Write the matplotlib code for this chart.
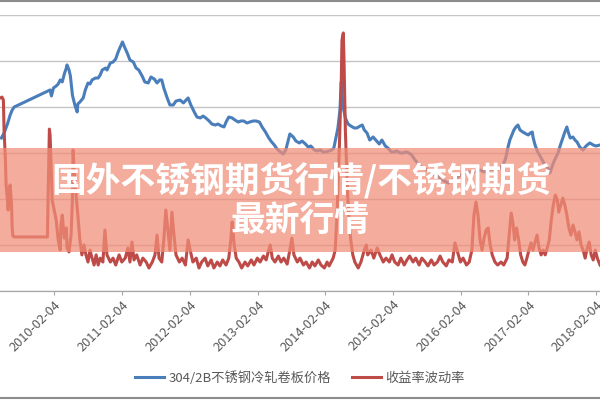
import matplotlib
matplotlib.use('Agg')
import matplotlib.pyplot as plt
from matplotlib.lines import Line2D
from matplotlib.patches import Rectangle
import pandas as pd

plt.rcParams['font.family'] = ['Noto Sans CJK SC', 'DejaVu Sans']

# ---- Data (dates as decimal years) ----
price_years = [
    2009.31, 2009.35, 2009.40, 2009.44, 2009.47, 2009.50,
    2010.03, 2010.05, 2010.08, 2010.12, 2010.15, 2010.18, 2010.21, 2010.24, 2010.27, 2010.28,
    2010.31, 2010.33, 2010.36, 2010.37, 2010.40, 2010.43, 2010.44, 2010.47, 2010.52, 2010.55,
    2010.59, 2010.62, 2010.65, 2010.70, 2010.74, 2010.77, 2010.80, 2010.85, 2010.87, 2010.92,
    2010.96, 2011.00, 2011.03, 2011.06, 2011.10, 2011.13, 2011.17, 2011.21, 2011.26, 2011.30,
    2011.34, 2011.39, 2011.43, 2011.48, 2011.52, 2011.57, 2011.61, 2011.65, 2011.68, 2011.71,
    2011.76, 2011.80, 2011.85, 2011.89, 2011.95, 2012.00, 2012.04, 2012.07, 2012.11, 2012.16,
    2012.20, 2012.25, 2012.29, 2012.33, 2012.38, 2012.42, 2012.47, 2012.51, 2012.56, 2012.60,
    2012.63, 2012.67, 2012.72, 2012.76, 2012.81, 2012.85, 2012.89, 2012.94, 2012.98, 2013.03,
    2013.07, 2013.12, 2013.16, 2013.21, 2013.25, 2013.29, 2013.34, 2013.38, 2013.43, 2013.47,
    2013.51, 2013.54, 2013.57, 2013.62, 2013.66, 2013.71, 2013.75, 2013.80, 2013.84, 2013.88,
    2013.93, 2013.97, 2014.02, 2014.06, 2014.10, 2014.15, 2014.19, 2014.22, 2014.25, 2014.28,
    2014.31, 2014.33, 2014.34, 2014.36, 2014.39, 2014.43, 2014.47, 2014.52, 2014.56, 2014.61,
    2014.64, 2014.67, 2014.71, 2014.75, 2014.80, 2014.84, 2014.89, 2014.93, 2014.98, 2015.02,
    2015.07, 2015.11, 2015.15, 2015.20, 2015.24, 2015.29, 2015.33, 2015.37, 2015.42, 2015.47,
    2015.51, 2015.55, 2015.60, 2015.64, 2015.69, 2015.73, 2015.79, 2015.85, 2015.91, 2015.97,
    2016.03, 2016.09, 2016.15, 2016.21, 2016.26, 2016.32, 2016.38, 2016.44, 2016.50, 2016.56,
    2016.62, 2016.67, 2016.72, 2016.76, 2016.79, 2016.82, 2016.85, 2016.88, 2016.91, 2016.94,
    2016.97, 2017.01, 2017.06, 2017.09, 2017.12, 2017.15, 2017.16, 2017.19, 2017.23, 2017.28,
    2017.32, 2017.37, 2017.41, 2017.46, 2017.50, 2017.53, 2017.56, 2017.59, 2017.62, 2017.63,
    2017.66, 2017.68, 2017.71, 2017.75, 2017.78, 2017.81, 2017.85, 2017.90, 2017.93, 2017.96,
    2018.00, 2018.05, 2018.09, 2018.15,
]
price = [
    16630, 17170, 18150, 19130, 19670, 20000,
    21850, 21200, 22070, 22280, 22500, 22940, 22720, 23590, 24240, 24570,
    24020, 23370, 21300, 20980, 20110, 19460, 20330, 20540, 20980, 21850,
    22610, 22500, 22940, 23150, 23150, 23480, 24020, 24240, 24020, 24780,
    24890, 25220, 25870, 26410, 27070, 26520, 25870, 25110, 24890, 24240,
    24020, 23370, 22720, 22610, 23260, 23040, 22610, 22940, 22940, 22070,
    20980, 20220, 20220, 20650, 20760, 20440, 20760, 20980, 20220, 19460,
    18910, 18810, 19020, 18810, 18480, 18150, 18040, 18150, 17940, 17830,
    18370, 18910, 18810, 18590, 18370, 18480, 18480, 18260, 18370, 18480,
    18480, 18370, 17830, 17280, 16740, 16300, 15870, 15440, 15110, 14890,
    15330, 16200, 17070, 16740, 16300, 16090, 16300, 15980, 15650, 15760,
    15330, 15220, 15330, 15110, 15110, 15220, 15330, 15540, 16630, 17720,
    19670, 22720, 21300, 19890, 18810, 18150, 17940, 17720, 17720, 17940,
    18040, 17500, 17170, 16410, 16740, 16410, 15980, 16410, 15760, 15540,
    15110, 15110, 15220, 15000, 15000, 15110, 15000, 14780, 14240, 13800,
    13480, 13370, 13150, 12940, 12720, 12500, 12280, 11960, 11740, 12070,
    12280, 12610, 12830, 12940, 12830, 13040, 13150, 12940, 13150, 13260,
    13150, 13370, 13700, 14460, 15540, 16410, 16960, 17500, 17830, 18040,
    17500, 17280, 17070, 16960, 17170, 17280, 16740, 15870, 15110, 14460,
    13910, 13480, 12830, 13910, 14570, 15000, 15760, 16410, 17070, 17280,
    17830, 17280, 16630, 16740, 16410, 16200, 15650, 15330, 15650, 15870,
    16090, 15870, 15760, 15870,
]

vol_years = [
    2009.29, 2009.32, 2009.34, 2009.35, 2009.37, 2009.38, 2009.40, 2009.41, 2009.43, 2009.44,
    2009.46, 2009.47, 2009.48, 2009.50, 2009.99, 2010.00, 2010.02, 2010.03, 2010.05, 2010.06,
    2010.09, 2010.12, 2010.15, 2010.18, 2010.19, 2010.21, 2010.24, 2010.27, 2010.28, 2010.31,
    2010.34, 2010.36, 2010.37, 2010.39, 2010.42, 2010.44, 2010.47, 2010.50, 2010.53, 2010.56,
    2010.59, 2010.62, 2010.65, 2010.68, 2010.71, 2010.74, 2010.77, 2010.81, 2010.84, 2010.87,
    2010.92, 2010.96, 2011.00, 2011.05, 2011.09, 2011.14, 2011.18, 2011.21, 2011.24, 2011.27,
    2011.31, 2011.36, 2011.40, 2011.45, 2011.49, 2011.54, 2011.58, 2011.61, 2011.64, 2011.68,
    2011.71, 2011.74, 2011.77, 2011.80, 2011.83, 2011.86, 2011.89, 2011.94, 2011.98, 2012.03,
    2012.07, 2012.10, 2012.14, 2012.19, 2012.23, 2012.27, 2012.32, 2012.36, 2012.41, 2012.45,
    2012.50, 2012.54, 2012.58, 2012.63, 2012.67, 2012.70, 2012.72, 2012.75, 2012.78, 2012.82,
    2012.86, 2012.91, 2012.95, 2013.00, 2013.04, 2013.09, 2013.13, 2013.18, 2013.22, 2013.25,
    2013.28, 2013.31, 2013.35, 2013.40, 2013.44, 2013.48, 2013.53, 2013.57, 2013.60, 2013.63,
    2013.68, 2013.72, 2013.77, 2013.81, 2013.86, 2013.90, 2013.94, 2013.99, 2014.03, 2014.08,
    2014.12, 2014.15, 2014.21, 2014.24, 2014.27, 2014.30, 2014.33, 2014.34, 2014.36, 2014.37,
    2014.39, 2014.42, 2014.45, 2014.47, 2014.50, 2014.53, 2014.58, 2014.62, 2014.67, 2014.70,
    2014.72, 2014.77, 2014.81, 2014.86, 2014.90, 2014.95, 2014.99, 2015.04, 2015.08, 2015.12,
    2015.17, 2015.21, 2015.26, 2015.30, 2015.34, 2015.39, 2015.43, 2015.48, 2015.52, 2015.57,
    2015.61, 2015.66, 2015.70, 2015.75, 2015.79, 2015.83, 2015.88, 2015.92, 2015.97, 2016.01,
    2016.04, 2016.09, 2016.13, 2016.18, 2016.22, 2016.26, 2016.29, 2016.32, 2016.35, 2016.38,
    2016.41, 2016.44, 2016.47, 2016.50, 2016.53, 2016.56, 2016.60, 2016.64, 2016.69, 2016.73,
    2016.78, 2016.81, 2016.84, 2016.87, 2016.89, 2016.92, 2016.95, 2016.98, 2017.01, 2017.04,
    2017.07, 2017.10, 2017.13, 2017.16, 2017.19, 2017.22, 2017.25, 2017.28, 2017.31, 2017.34,
    2017.37, 2017.40, 2017.43, 2017.46, 2017.49, 2017.52, 2017.54, 2017.57, 2017.60, 2017.63,
    2017.66, 2017.69, 2017.72, 2017.75, 2017.78, 2017.81, 2017.84, 2017.87, 2017.90, 2017.93,
    2017.96, 2017.99, 2018.02, 2018.05, 2018.08, 2018.11, 2018.15,
]
vol = [
    83.9, 84.3, 83.0, 70.0, 57.0, 46.1, 39.6, 35.2, 44.8, 46.1,
    37.4, 27.4, 23.9, 23.5, 23.5, 39.6, 70.4, 67.8, 50.4, 39.6,
    35.2, 30.9, 22.2, 17.8, 28.7, 33.0, 23.0, 27.4, 18.7, 17.0,
    24.3, 39.6, 61.3, 50.4, 39.6, 33.0, 22.2, 15.7, 20.0, 15.7,
    12.6, 17.8, 14.3, 11.3, 15.7, 11.3, 14.3, 12.6, 26.5, 15.7,
    12.6, 14.3, 11.3, 15.7, 12.6, 14.3, 18.7, 12.6, 21.3, 13.5,
    15.7, 11.3, 14.3, 12.6, 10.0, 12.6, 15.7, 24.3, 14.3, 12.6,
    22.2, 35.2, 26.5, 17.8, 34.3, 24.3, 15.7, 12.6, 14.3, 11.3,
    22.2, 17.8, 12.6, 14.3, 10.0, 12.6, 14.3, 10.9, 13.5, 10.0,
    12.6, 10.9, 13.5, 11.3, 14.3, 22.2, 30.0, 20.0, 14.3, 12.6,
    10.0, 12.6, 10.9, 13.5, 11.3, 14.3, 12.6, 15.2, 13.5, 17.0,
    20.0, 14.3, 12.6, 15.2, 12.6, 14.3, 11.7, 17.8, 23.0, 15.7,
    12.6, 14.3, 11.3, 12.6, 10.0, 12.6, 10.9, 13.5, 11.3, 10.0,
    12.6, 10.9, 14.3, 17.8, 35.2, 61.3, 91.7, 109.1, 112.2, 100.4,
    70.0, 43.9, 28.7, 22.2, 15.7, 12.6, 10.0, 12.6, 17.8, 20.0,
    15.7, 17.8, 14.3, 18.7, 15.7, 12.6, 14.3, 12.6, 15.7, 12.6,
    11.3, 14.3, 11.3, 13.5, 15.2, 12.6, 14.3, 11.3, 14.3, 12.6,
    10.9, 13.5, 11.3, 12.6, 15.2, 12.6, 10.9, 13.5, 12.6, 20.9,
    17.8, 12.6, 14.3, 11.3, 12.6, 17.8, 33.0, 38.7, 33.0, 22.2,
    17.8, 23.0, 26.5, 27.4, 20.0, 15.7, 12.6, 11.3, 12.6, 11.3,
    14.3, 24.3, 33.9, 28.7, 22.2, 27.4, 22.2, 15.7, 12.6, 11.3,
    14.3, 17.8, 20.9, 17.8, 21.3, 24.3, 18.7, 15.7, 17.8, 15.7,
    18.7, 22.2, 30.9, 37.4, 41.7, 39.6, 34.3, 37.4, 40.4, 37.4,
    33.0, 27.4, 24.3, 28.7, 25.7, 22.2, 25.7, 20.0, 17.8, 14.3,
    18.7, 21.3, 15.7, 13.5, 17.8, 14.3, 11.3,
]

tick_dates = ['2010-02-04', '2011-02-04', '2012-02-04', '2013-02-04', '2014-02-04',
              '2015-02-04', '2016-02-04', '2017-02-04', '2018-02-04']
x_range = [2009.29, 2018.15]

price_label = '304/2B不锈钢冷轧卷板价格'
vol_label = '收益率波动率'
banner_lines = ['国外不锈钢期货行情/不锈钢期货', '最新行情']

C_BLUE = '#4A7EBB'
C_RED = '#BE4B48'
C_GRID = '#C4C4C4'
C_TEXT = '#595959'


def to_date(v):
    y = int(v)
    return pd.Timestamp(year=y, month=1, day=1) + pd.Timedelta(days=(v - y) * 365.25)


price_dates = [to_date(v) for v in price_years]
vol_dates = [to_date(v) for v in vol_years]

# ---- Figure ----
fig = plt.figure(figsize=(6, 4), dpi=100)
ax = fig.add_axes([0.0, 0.2725, 1.0, 0.69])
ax2 = ax.twinx()

ax.plot(price_dates, price, color=C_BLUE, lw=2.2, solid_joinstyle='round', label=price_label)
ax2.plot(vol_dates, vol, color=C_RED, lw=2.2, solid_joinstyle='round', label=vol_label)

ax.set_xlim(to_date(x_range[0]), to_date(x_range[1]))
ax.set_ylim(0, 30000)
ax.set_yticks(range(0, 30001, 5000))
ax2.set_ylim(0, 120)
ax.grid(axis='y', color=C_GRID, lw=1.0)
ax.set_axisbelow(True)

for a in (ax, ax2):
    for s in ('top', 'left', 'right'):
        a.spines[s].set_visible(False)
    a.spines['bottom'].set_color('#A6A6A6')
    a.tick_params(axis='y', left=False, right=False, labelleft=False, labelright=False)

ax.set_xticks(pd.to_datetime(tick_dates))
ax.set_xticklabels(tick_dates, fontsize=9.2, color=C_TEXT)
ax.tick_params(axis='x', length=3, color='#A6A6A6', pad=2)
plt.setp(ax.get_xticklabels(), rotation=45, ha='right', rotation_mode='anchor')

# legend
h1, l1 = ax.get_legend_handles_labels()
h2, l2 = ax2.get_legend_handles_labels()
fig.legend(h1 + h2, l1 + l2, loc='center', bbox_to_anchor=(0.5, 0.055), ncol=2,
           frameon=False, fontsize=9.5, handlelength=2.2, columnspacing=1.6,
           handletextpad=0.3, labelcolor=C_TEXT)

# chart frame lines
fig.add_artist(Line2D([0, 1], [0.997, 0.997], transform=fig.transFigure, color='#8C8C8C', lw=1.5))
fig.add_artist(Line2D([0, 1], [0.006, 0.006], transform=fig.transFigure, color='#8C8C8C', lw=1.5))

# banner overlay
fig.add_artist(Rectangle((0, 0.37), 1, 0.26, transform=fig.transFigure,
                         facecolor=(0.945, 0.553, 0.467), alpha=0.73, edgecolor='none', zorder=5))
fig.text(0.503, 0.55, banner_lines[0], ha='center', va='center', color='white',
         fontsize=25, fontweight='black', zorder=6)
fig.text(0.5, 0.447, banner_lines[1], ha='center', va='center', color='white',
         fontsize=25, fontweight='black', zorder=6)

fig.savefig('out.png', dpi=100, facecolor='white')
